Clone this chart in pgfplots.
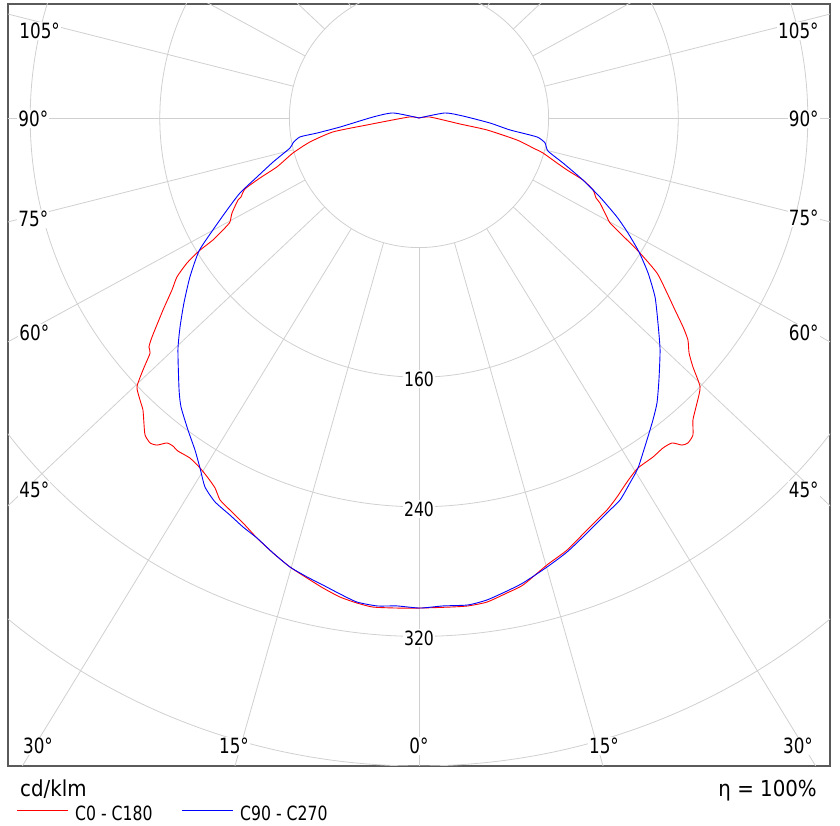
\documentclass[border=0pt]{standalone}
\usepackage{fontspec}
\setmainfont{DejaVu Sans}[FakeStretch=0.9]
\newfontfamily\labfont{DejaVu Sans}[FakeStretch=0.8]
\usepackage{pgfplots}
\pgfplotsset{compat=1.18}
\definecolor{gridc}{RGB}{208,208,208}
\definecolor{framec}{RGB}{90,90,90}
\begin{document}
\begin{tikzpicture}
\path[use as bounding box] (0pt,0pt) rectangle (840pt,826pt);
\begin{axis}[at={(8pt,60pt)}, anchor=south west, scale only axis,
  width=822pt, height=762pt,
  xmin=-253.7, xmax=253.7, ymin=-400, ymax=70.37,
  xtick=\empty, ytick=\empty,
  axis line style={draw=framec, line width=1.2pt}, clip=true]
% grid circles
\draw[gridc, line width=0.8pt] (axis cs:0,0) circle[radius=80];
\draw[gridc, line width=0.8pt] (axis cs:0,0) circle[radius=160];
\draw[gridc, line width=0.8pt] (axis cs:0,0) circle[radius=240];
\draw[gridc, line width=0.8pt] (axis cs:0,0) circle[radius=320];
\draw[gridc, line width=0.8pt] (axis cs:0,0) circle[radius=400];
% spokes
\draw[gridc, line width=0.8pt] (axis cs:0,-80) -- (axis cs:0,-600);
\draw[gridc, line width=0.8pt] (axis cs:21.86,-76.95) -- (axis cs:163.9,-577.1) (axis cs:-21.86,-76.95) -- (axis cs:-163.9,-577.1);
\draw[gridc, line width=0.8pt] (axis cs:41.76,-68.23) -- (axis cs:313.2,-511.7) (axis cs:-41.76,-68.23) -- (axis cs:-313.2,-511.7);
\draw[gridc, line width=0.8pt] (axis cs:58.19,-54.90) -- (axis cs:436.4,-411.7) (axis cs:-58.19,-54.90) -- (axis cs:-436.4,-411.7);
\draw[gridc, line width=0.8pt] (axis cs:70.26,-38.26) -- (axis cs:526.9,-287.0) (axis cs:-70.26,-38.26) -- (axis cs:-526.9,-287.0);
\draw[gridc, line width=0.8pt] (axis cs:77.56,-19.61) -- (axis cs:581.7,-147.1) (axis cs:-77.56,-19.61) -- (axis cs:-581.7,-147.1);
\draw[gridc, line width=0.8pt] (axis cs:80,0) -- (axis cs:600,0) (axis cs:-80,0) -- (axis cs:-600,0);
\draw[gridc, line width=0.8pt] (axis cs:77.56,19.61) -- (axis cs:581.7,147.1) (axis cs:-77.56,19.61) -- (axis cs:-581.7,147.1);
\draw[gridc, line width=0.8pt] (axis cs:70.26,38.26) -- (axis cs:526.9,287.0) (axis cs:-70.26,38.26) -- (axis cs:-526.9,287.0);
\draw[gridc, line width=0.8pt] (axis cs:58.19,54.90) -- (axis cs:436.4,411.7) (axis cs:-58.19,54.90) -- (axis cs:-436.4,411.7);
\draw[gridc, line width=0.8pt] (axis cs:41.76,68.23) -- (axis cs:313.2,511.7) (axis cs:-41.76,68.23) -- (axis cs:-313.2,511.7);
% C0 - C180 (cd/klm, cartesian: x = I sin g, y = -I cos g)
\addplot[red, line width=0.9pt, smooth, tension=0.35] coordinates {
(0,0) (-6.2,0.6) (-32.1,-4.3) (-53.1,-8.6) (-67.3,-14.8) (-77.8,-21.6) (-87.7,-30.2) (-98.1,-37.0) (-107.4,-43.8) (-109.9,-48.8) (-111.7,-50.6) (-115.4,-58.6) (-116.7,-64.2) (-119.8,-67.9) (-127.2,-75.3) (-135.8,-82.1) (-143.2,-89.5) (-149.4,-98.1) (-152.5,-106.2) (-158.0,-118.5) (-164.8,-135.2) (-166.7,-141.4) (-166.0,-145.1) (-170.4,-155.6) (-174.1,-166.0) (-172.2,-174.1) (-170.4,-180.2) (-169.8,-188.3) (-169.1,-195.7) (-166.0,-200.6) (-161.7,-201.9) (-155.6,-200.6) (-151.9,-202.5) (-148.8,-205.6) (-141.4,-209.9) (-135.2,-216.0) (-130.2,-222.2) (-125.9,-228.4) (-122.8,-235.8) (-116.7,-242.0) (-108.6,-250.0) (-100.0,-259.3) (-90.1,-268.5) (-79.6,-277.2) (-69.1,-284.0) (-59.3,-290.1) (-48.8,-295.7) (-38.3,-299.4) (-28.4,-301.9) (-13.6,-302.5) (0.6,-302.5) (19.1,-301.9) (30.2,-301.2) (42.0,-298.8) (54.3,-293.2) (64.2,-288.3) (79.0,-275.9) (91.4,-266.7) (103.7,-254.3) (116.0,-242.0) (122.2,-234.0) (125.9,-228.4) (130.2,-222.2) (135.2,-216.0) (144.4,-209.3) (150.6,-203.7) (156.2,-200.6) (162.3,-201.9) (166.0,-200.6) (169.1,-195.7) (169.1,-186.4) (171.6,-175.9) (173.5,-166.0) (169.1,-153.7) (166.7,-145.1) (166.0,-137.0) (163.0,-129.0) (158.0,-118.5) (153.1,-108.0) (146.9,-95.7) (135.8,-82.7) (124.1,-71.0) (117.9,-64.8) (116.0,-61.1) (111.7,-52.5) (109.3,-49.4) (107.4,-44.4) (101.2,-38.3) (91.4,-32.1) (85.2,-27.8) (76.5,-21.6) (70.4,-18.5) (60.5,-13.6) (42.0,-7.4) (25.3,-3.7) (6.8,0.6) (0,0)
};
% C90 - C270
\addplot[blue, line width=0.9pt, smooth, tension=0.35] coordinates {
(0,0) (-16.0,3.1) (-28.4,0.6) (-48.8,-5.6) (-63.0,-9.3) (-73.5,-11.7) (-77.8,-15.4) (-79.6,-18.5) (-90.1,-27.2) (-100.0,-36.4) (-110.5,-46.3) (-118.5,-56.8) (-127.2,-69.1) (-135.8,-82.1) (-141.4,-98.1) (-145.1,-114.2) (-147.5,-129.0) (-148.8,-143.2) (-148.1,-167.9) (-146.9,-178.4) (-142.6,-192.6) (-138.3,-204.9) (-135.2,-216.0) (-132.1,-227.8) (-125.9,-237.0) (-116.7,-245.1) (-108.6,-252.5) (-100.0,-259.3) (-90.1,-268.5) (-79.6,-277.2) (-69.1,-283.3) (-59.3,-288.3) (-48.8,-293.8) (-38.3,-298.8) (-25.9,-301.2) (-13.6,-301.2) (0.6,-302.5) (14.8,-301.2) (30.2,-300.6) (42.0,-297.5) (54.3,-292.0) (64.2,-287.0) (79.0,-277.2) (91.4,-267.9) (103.7,-256.2) (116.0,-243.8) (124.1,-235.8) (130.2,-225.3) (135.2,-216.0) (140.7,-198.8) (144.4,-186.4) (146.9,-175.9) (148.1,-161.7) (148.8,-143.2) (147.5,-126.5) (145.7,-110.5) (141.4,-95.7) (135.8,-82.7) (129.0,-71.0) (122.2,-61.1) (111.7,-48.8) (101.2,-38.3) (88.9,-27.8) (79.6,-20.4) (77.8,-15.4) (72.8,-11.7) (56.2,-7.4) (43.8,-3.1) (27.2,1.2) (16.0,3.1) (0,0)
};
\end{axis}
% angle labels
\tikzset{lab/.style={fill=white, inner sep=1.2pt, font=\labfont\fontsize{21}{24}\selectfont}}
\node[lab, anchor=west] at (18pt,795pt) {105°};
\node[lab, anchor=west] at (17pt,707pt) {90°};
\node[lab, anchor=west] at (17pt,607pt) {75°};
\node[lab, anchor=west] at (18pt,493pt) {60°};
\node[lab, anchor=west] at (18pt,336pt) {45°};
\node[lab, anchor=east] at (820pt,795pt) {105°};
\node[lab, anchor=east] at (820pt,707pt) {90°};
\node[lab, anchor=east] at (820pt,608pt) {75°};
\node[lab, anchor=east] at (820pt,493pt) {60°};
\node[lab, anchor=east] at (820pt,336pt) {45°};
\node[lab] at (38pt,80pt) {30°};
\node[lab] at (234pt,80pt) {15°};
\node[lab] at (419pt,80pt) {0°};
\node[lab] at (604pt,80pt) {15°};
\node[lab] at (798pt,80pt) {30°};
% value labels
\tikzset{val/.style={fill=white, inner sep=1.5pt, font=\labfont\fontsize{19.6}{22}\selectfont}}
\node[val] at (419pt,447pt) {160};
\node[val] at (419pt,317pt) {240};
\node[val] at (419pt,188pt) {320};
% bottom texts
\node[anchor=base west, inner sep=0pt, font=\fontsize{22}{24}\selectfont] at (20pt,29pt) {cd/klm};
\node[anchor=base east, inner sep=0pt, font=\fontsize{22}{24}\selectfont] at (817pt,29pt) {η = 100\%};
\draw[draw=red, line width=1pt] (17pt,15pt) -- (68pt,15pt);
\node[anchor=base west, inner sep=0pt, font=\labfont\fontsize{19.6}{22}\selectfont] at (75pt,5pt) {C0 - C180};
\draw[draw=blue, line width=1pt] (182pt,15pt) -- (233pt,15pt);
\node[anchor=base west, inner sep=0pt, font=\labfont\fontsize{19.6}{22}\selectfont] at (240pt,5pt) {C90 - C270};
\end{tikzpicture}
\end{document}
